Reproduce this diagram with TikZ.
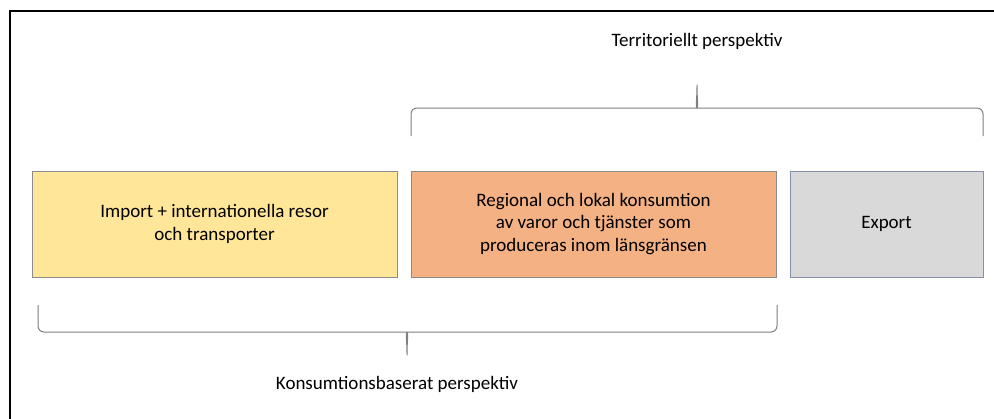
\documentclass[tikz,border=0pt]{standalone}
\usepackage{fontspec}
\setmainfont{Carlito}
\usepackage{tikz}
\usetikzlibrary{calc}

\definecolor{importgul}{HTML}{FFE699}
\definecolor{regionorange}{HTML}{F4B183}
\definecolor{exportgra}{HTML}{D9D9D9}
\definecolor{kantgra}{HTML}{8C8C8C}
\definecolor{kantbla}{HTML}{8490AE}
\definecolor{klammer}{HTML}{7F7F7F}

\tikzset{
    sektor/.style={draw=kantgra, line width=1pt, minimum height=106pt, align=center,
        inner sep=0pt, font=\fontsize{19}{22.5}\selectfont},
    rubrik/.style={font=\fontsize{19}{22}\selectfont, inner sep=0pt},
    klamra/.style={draw=klammer, line width=1pt, rounded corners=6pt}
}

\begin{document}
\begin{tikzpicture}[x=1pt,y=-1pt]
        \useasboundingbox (0,0) rectangle (994,418);
        \fill[white] (0,0) rectangle (994,418);
        \draw[line width=2pt] (10,430) -- (10,11) -- (1000,11);
        % rutorna
        \node[sektor, fill=importgul, minimum width=365pt] (import) at (214.5,224)
            {Import + internationella resor\\och transporter};
        \node[sektor, fill=regionorange, minimum width=365pt] (region) at (593.5,224)
            {Regional och lokal konsumtion\\av varor och tjänster som\\produceras inom länsgränsen};
        \node[sektor, fill=exportgra, draw=kantbla, minimum width=193pt] (export) at (886.5,224)
            {Export};
        % klamrar
        \draw[klamra] (411,136) |- (692,108) .. controls (695,108) and (697,100) .. (697,81)
            .. controls (697,100) and (699,108) .. (702,108) -| (983,136);
        \draw[klamra] (38,305) |- (402,332) .. controls (405,332) and (407,340) .. (407,359)
            .. controls (407,340) and (409,332) .. (412,332) -| (777,305);
        \node[rubrik] (territoriellt) at (697,41) {Territoriellt perspektiv};
        \node[rubrik] (konsumtion) at (397,384) {Konsumtionsbaserat perspektiv};
    \end{tikzpicture}
\end{document}
